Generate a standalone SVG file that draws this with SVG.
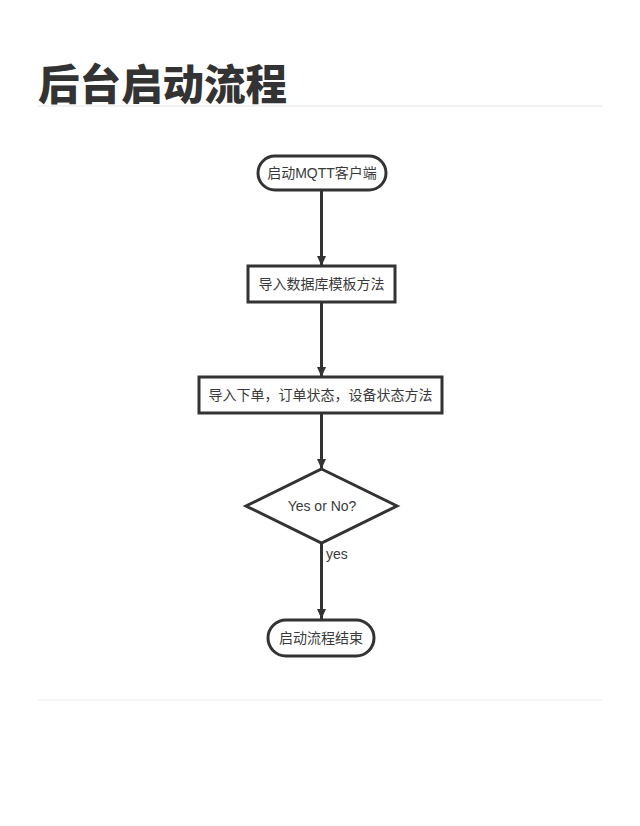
<svg xmlns="http://www.w3.org/2000/svg" width="640" height="826" viewBox="0 0 640 826">
<style>
.t{font-family:"Liberation Sans","Noto Sans CJK SC",sans-serif;font-size:14px;fill:#3a3a3a;text-anchor:middle;dominant-baseline:central}
.n{fill:#fff;stroke:#333;stroke-width:3}
.c{stroke:#333;stroke-width:3;fill:none}
</style>
<defs>
<marker id="ah" markerUnits="userSpaceOnUse" markerWidth="10" markerHeight="10" viewBox="0 0 10 10" refX="10" refY="5" orient="auto">
<path d="M0,0.5 L10,5 L0,9.5 Z" fill="#333"/>
</marker>
</defs>
<rect width="640" height="826" fill="#fff"/>
<text x="38" y="100" font-family="'Noto Sans CJK SC',sans-serif" font-weight="900" font-size="41.5" fill="#333">后台启动流程</text>
<line x1="38" y1="106" x2="602" y2="106" stroke="#eeeeee" stroke-width="1.5"/>
<line x1="38" y1="700" x2="602" y2="700" stroke="#f2f2f2" stroke-width="1.5"/>
<g id="connectors">
<line class="c" x1="321.5" y1="190" x2="321.5" y2="266" marker-end="url(#ah)"/>
<line class="c" x1="321.5" y1="302" x2="321.5" y2="377" marker-end="url(#ah)"/>
<line class="c" x1="321.5" y1="413" x2="321.5" y2="469" marker-end="url(#ah)"/>
<line class="c" x1="321.5" y1="543" x2="321.5" y2="619" marker-end="url(#ah)"/>
<text class="t" x="326" y="554" style="text-anchor:start">yes</text>
</g>
<g id="start">
<rect class="n" x="258" y="156" width="128" height="34" rx="17"/>
<text class="t" x="322" y="173">启动MQTT客户端</text>
</g>
<g id="step1">
<rect class="n" x="248" y="266" width="147" height="36"/>
<text class="t" x="321.5" y="284">导入数据库模板方法</text>
</g>
<g id="step2">
<rect class="n" x="199" y="377" width="243" height="36"/>
<text class="t" x="320.5" y="395">导入下单，订单状态，设备状态方法</text>
</g>
<g id="decision">
<polygon class="n" points="321.5,469 397,506 321.5,543 246,506"/>
<text class="t" x="322" y="506">Yes or No?</text>
</g>
<g id="end">
<rect class="n" x="268" y="620" width="106" height="36" rx="18"/>
<text class="t" x="321" y="638">启动流程结束</text>
</g>
</svg>
